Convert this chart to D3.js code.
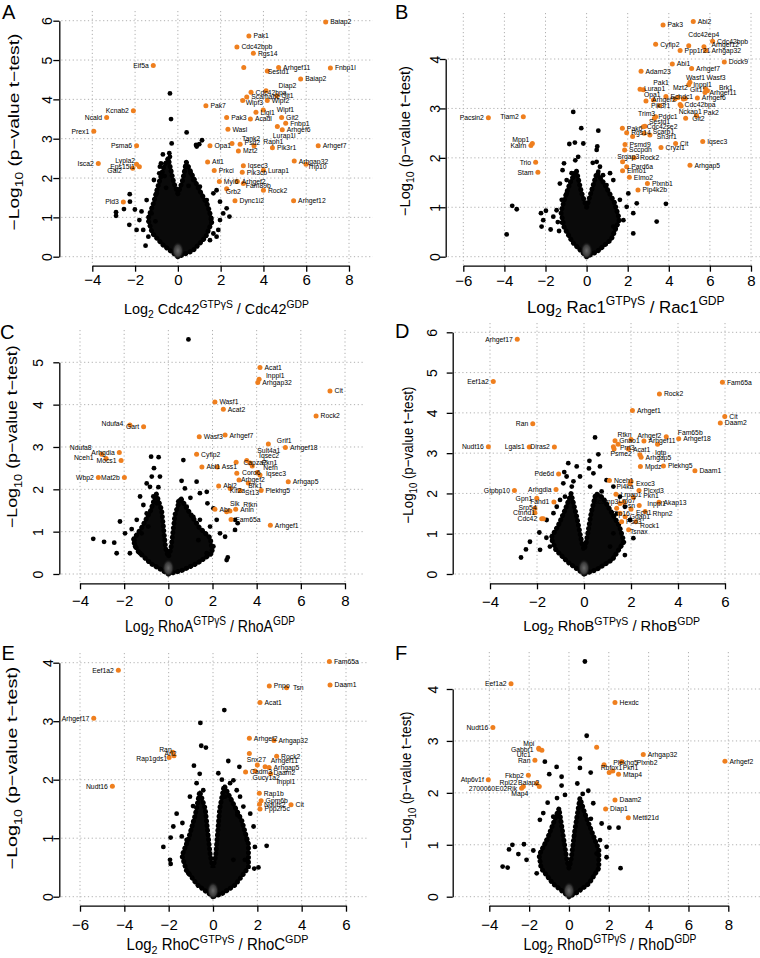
<!DOCTYPE html>
<html><head><meta charset="utf-8">
<script src="https://cdn.jsdelivr.net/npm/d3@7"></script>
<style>body{margin:0;background:#fff}svg{display:block}</style>
</head><body>
<svg id="chart" width="760" height="958"></svg>
<script>
// ---------------- DATA ----------------
// hits: [gene, log2 ratio, -log10 p]; "" = unlabeled highlighted point
const cdc42XTicks = [-4,-2,0,2,4,6,8];
const cdc42YTicks = [0,1,2,3,4,5,6];
const cdc42Hits = [
["Baiap2",6.91,5.97],["Pak1",3.32,5.61],["Cdc42bpb",2.76,5.33],["Rgs14",3.53,5.17],["Eif5a",-1.15,4.86],["",3.08,4.81],["Arhgef11",4.71,4.81],["Sestd1",4.18,4.72],["Fnbp1l",7.13,4.80],["Baiap2",5.74,4.52],["Diap2",4.12,4.22],["Cdc42bpa",3.42,4.18],["Scamabc",3.22,4.06],["Git1",4.62,4.09],["Wipf3",3.03,3.97],["Wipf2",4.18,3.97],["Wipf1",3.99,3.73],["Llgl1",3.65,3.67],["Git2",4.85,3.54],["Acadl",3.39,3.50],["Pak3",2.28,3.54],["Fnbp1",5.04,3.39],["Arhgef6",4.88,3.23],["Lurap1l",4.65,3.31],["Wasl",2.34,3.24],["Pak7",1.31,3.84],["Tank2",2.53,2.88],["Psd2",2.91,2.86],["Raph1",3.56,2.82],["Pik3r1",4.42,2.77],["Opa1",1.50,2.82],["Mzt2",2.83,2.69],["Arhgef7",6.56,2.82],["Atl1",1.39,2.41],["Iqsec3",3.06,2.31],["Pik3cb",3.01,2.15],["Lurap1",4.00,2.20],["Arhgap32",5.44,2.43],["Trip10",5.99,2.35],["Prkci",1.70,2.19],["Myl6",1.94,1.91],["Arhgef2",2.78,1.91],["Fam89b",3.06,1.86],["Rock2",4.00,1.69],["Grb2",2.28,1.73],["Dync1i2",2.67,1.42],["Arhgef12",5.41,1.42],["Kcnab2",-2.08,3.71],["Ncald",-3.33,3.54],["Prex1",-3.93,3.19],["Psma6",-1.93,2.82],["Isca2",-3.72,2.37],["Lypla2",-1.93,2.35],["Eps15l1",-1.80,2.29],["Gai2",-2.11,2.25],["Pld3",-2.55,1.39]
];
const cdc42LeftLabels = ["Eif5a","Kcnab2","Ncald","Prex1","Psma6","Isca2","Lypla2","Eps15l1","Gai2","Pld3"];
const cdc42Background = [[-2.25,1.59],[-2.52,1.21],[-2.24,1.40],[-2.89,1.13],[-2.89,1.04],[-2.27,0.81],[-2.01,1.20],[-1.80,0.93],[-1.62,0.68],[-1.93,0.68],[-1.51,0.28],[-1.38,0.51],[-1.12,1.95],[-0.99,1.61],[-1.46,1.44],[-1.23,1.10],[-0.84,2.29],[-0.79,2.37],[-0.87,2.12],[-0.45,2.46],[-0.37,2.54],[-0.29,2.88],[-0.40,2.63],[-0.32,3.50],[-0.37,4.15],[0.41,3.16],[0.85,2.84],[1.00,2.86],[1.13,2.96],[0.88,2.80],[0.60,2.12],[0.72,1.95],[1.03,1.78],[1.66,1.61],[1.81,1.69],[1.35,1.44],[1.97,1.40],[2.28,1.23],[2.12,1.10],[2.41,1.02],[1.97,0.93],[1.66,0.59],[1.89,0.68],[1.50,0.42],[1.81,0.51],[-0.62,2.05],[-0.55,1.75],[0.35,2.3],[0.5,1.8],[-1.7,1.15],[1.55,0.95],[-1.05,0.9],[-0.7,2.6]];
const cdc42Core = [[0,0],[-0.7,0.3],[-1.2,0.6],[-1.4,0.95],[-1.15,1.35],[-0.9,1.85],[-0.65,2.3],[-0.45,2.5],[-0.2,1.9],[0,1.6],[0.2,1.9],[0.4,2.4],[0.65,2.1],[1.0,1.7],[1.4,1.3],[1.6,0.9],[1.3,0.5],[0.7,0.15]];

const rac1XTicks = [-6,-4,-2,0,2,4,6,8];
const rac1YTicks = [0,1,2,3,4];
const rac1Hits = [
["Pak3",3.72,4.69],["Abi2",5.19,4.76],["Cdc42bpb",6.13,4.36],["Cdc42ep4",4.97,4.27],["Ppp1r21",4.55,4.17],["Arhgef12",5.71,4.25],["Arhgap32",5.79,4.17],["Cyfip2",3.36,4.30],["Abi1",4.17,3.90],["Arhgef7",5.11,3.81],["Dock9",6.70,3.94],["Adam23",2.65,3.75],["Wasf1",5.03,3.53],["Inppl1",4.97,3.48],["Wasf3",5.79,3.40],["Brk1",5.88,3.36],["Arhgef11",5.76,3.32],["Arhgef6",5.39,3.21],["Mzt2",4.45,3.22],["Git1",4.80,3.20],["Echdc1",3.86,3.24],["Pak1",2.60,3.39],["Lurap1",2.76,3.38],["Opa1",2.89,3.15],["Arhgef2",3.25,3.17],["Pik3r1",3.55,3.06],["Cdc42bpa",4.55,3.08],["",4.30,3.19],["",4.71,3.19],["Nckap1",4.60,3.05],["Pak2",5.35,2.85],["Git2",4.82,2.80],["Trim3",3.36,2.83],["Pddc1",3.30,2.80],["Sestd1",2.84,2.64],["Cdc42se2",2.76,2.63],["Pak6",1.74,2.60],["Rgs14",1.95,2.51],["Scarb1",2.80,2.50],["Sh3rf1",3.08,2.46],["",2.24,2.43],["Psmd9",1.87,2.27],["Sccpdh",1.85,2.16],["Cit",4.33,2.29],["Cryzl1",3.62,2.21],["Iqsec3",5.65,2.33],["Srgap3",1.75,1.92],["Rock2",2.31,2.00],["Pard6a",1.95,1.82],["Elmo1",1.75,1.74],["Elmo2",2.08,1.61],["Arhgap5",5.03,1.85],["Plxnb1",2.96,1.48],["Pip4k2b",2.50,1.35],["Pacsin2",-4.78,2.81],["Tiam2",-3.08,2.83],["Mpp1",-2.64,2.29],["Kalrn",-2.71,2.25],["Trio",-2.48,1.91],["Stam",-2.37,1.71]
];
const rac1LeftLabels = ["Pacsin2","Tiam2","Mpp1","Kalrn","Trio","Stam","Trim3"];
const rac1Background = [[-0.65,2.93],[-0.26,2.60],[0.57,2.55],[-0.84,2.28],[-0.57,2.31],[-0.16,2.29],[0.52,2.23],[-1.10,1.89],[0.49,1.92],[0.57,1.72],[-3.62,1.03],[-3.40,0.96],[-3.89,0.45],[-2.22,0.88],[-1.98,0.93],[-2.11,0.74],[-1.75,0.55],[-2.19,0.61],[-1.34,0.52],[-1.20,0.69],[3.86,1.07],[3.41,0.71],[-1.17,1.75],[-0.97,1.55],[-0.73,1.69],[-0.41,2.02],[0.65,1.82],[1.14,1.69],[1.30,1.55],[0.97,1.45],[1.62,1.15],[1.95,1.01],[2.27,0.88],[1.79,0.74],[1.30,0.61],[-0.97,1.28],[-1.21,1.15],[-1.46,0.94],[-1.62,0.81],[2.44,1.08],[2.03,1.28],[2.27,0.47],[0.49,2.16],[-1.30,1.48],[-0.55,1.95],[0.3,1.9],[0.8,1.65],[-1.4,0.7]];
const rac1Core = [[0,0],[-0.7,0.3],[-1.1,0.6],[-1.25,0.9],[-1.05,1.2],[-0.8,1.5],[-0.5,1.75],[-0.25,1.3],[0,1.0],[0.25,1.35],[0.5,1.7],[0.9,1.45],[1.35,1.1],[1.6,0.75],[1.2,0.35],[0.5,0.1]];

const rhoAXTicks = [-4,-2,0,2,4,6,8];
const rhoAYTicks = [0,1,2,3,4,5];
const rhoAHits = [
["Acat1",4.15,4.88],["Inppl1",4.11,4.60],["Arhgap32",4.05,4.52],["Cit",7.32,4.32],["Wasf1",2.11,4.06],["Acat2",2.49,3.89],["Rock2",6.69,3.73],["Wasf3",1.40,3.24],["Arhgef7",2.57,3.28],["Grif1",4.53,3.07],["Arhgef18",5.30,2.99],["Sult4a1",3.70,2.62],["Iqsec2",3.80,2.55],["Cyfip2",1.28,2.83],["Abl1",1.52,2.53],["Ass1",2.22,2.53],["Capza2",3.07,2.64],["Pkn1",3.55,2.68],["Nefh",4.03,2.40],["Iqsec3",4.15,2.34],["Coro6",3.10,2.38],["Arhgef2",3.20,2.22],["Brk1",3.62,2.15],["Abl2",2.28,2.08],["Kif2a",2.80,2.02],["St13",3.25,1.97],["Plekhg5",4.20,1.97],["Arhgap5",5.43,2.18],["Slk",2.64,1.47],["Rtkn",2.79,1.49],["Abr",2.11,1.53],["Anln",3.05,1.53],["Fam65a",2.84,1.29],["Arhgef1",4.62,1.15],["Ndufa4",-1.74,3.52],["Gart",-1.12,3.48],["Ndufa8",-3.02,2.83],["Arhgdia",-2.22,2.87],["Nceh1",-2.82,2.73],["Mocs1",-2.14,2.68],["Wbp2",-3.17,2.28],["Mat2b",-1.99,2.28]
];
const rhoALeftLabels = ["Ndufa4","Gart","Ndufa8","Arhgdia","Nceh1","Mocs1","Wbp2","Mat2b"];
const rhoABackground = [[0.91,5.54],[-0.78,2.77],[-0.44,2.76],[0.68,2.69],[-0.65,2.50],[-0.75,2.30],[-0.38,2.30],[1.28,2.18],[-0.83,2.06],[0.75,2.02],[1.74,1.94],[1.43,1.91],[1.77,1.67],[2.04,1.55],[3.02,1.28],[3.14,1.20],[3.02,1.04],[2.57,0.88],[2.69,0.39],[2.64,0.33],[-3.40,0.83],[-2.91,0.76],[-2.45,0.74],[-2.19,1.24],[-1.96,0.96],[-1.66,1.06],[-1.54,0.80],[-1.28,1.83],[-1.13,1.63],[-0.98,1.43],[-1.43,1.28],[-1.21,0.96],[-0.91,1.12],[-0.68,1.83],[-0.53,1.67],[0.45,1.71],[0.83,1.59],[1.13,1.35],[1.43,1.28],[1.89,1.12],[2.19,1.28],[2.34,0.96],[2.04,0.65],[1.74,0.49],[1.36,0.80],[-1.74,0.49],[-1.28,0.49],[-2.34,0.49],[-0.98,2.14],[-0.45,2.05],[0.6,2.2],[1.0,1.8],[-1.5,0.65]];
const rhoACore = [[0,0],[-0.8,0.25],[-1.4,0.55],[-1.6,0.8],[-1.2,1.1],[-0.8,1.5],[-0.55,1.9],[-0.3,1.5],[-0.12,0.6],[0,0.4],[0.12,0.6],[0.3,1.4],[0.55,1.8],[0.9,1.5],[1.4,1.1],[1.9,0.85],[2.0,0.5],[1.3,0.25],[0.6,0.08]];

const rhoBXTicks = [-4,-2,0,2,4,6];
const rhoBYTicks = [0,1,2,3,4,5,6];
const rhoBHits = [
["Arhgef17",-2.84,5.83],["Eef1a2",-3.86,4.78],["Ran",-2.18,3.73],["Nudt16",-4.07,3.16],["Lgals1",-2.33,3.15],["Diras2",-1.26,3.15],["Pde6d",-1.08,2.48],["Gtpbp10",-2.96,2.07],["Arhgdia",-1.19,2.10],["Gpn1",-2.01,1.88],["Fahd1",-1.28,1.79],["Srp54",-2.09,1.63],["Ctnnd1",-2.09,1.52],["Cdc42",-1.80,1.37],["",-1.73,1.37],["Fam65a",5.89,4.76],["Rock2",3.21,4.47],["Arhgef1",2.06,4.06],["Cit",5.99,3.91],["Daam2",5.80,3.75],["Fam65b",3.50,3.41],["Arhgef18",4.03,3.36],["Rtkn",1.32,3.31],["Arhgef2",2.0,3.34],["Gnao1",1.45,3.22],["Arhgef11",2.55,3.30],["",3.13,3.22],["Prrt3",1.25,3.16],["Psme2",1.28,3.10],["Acat1",1.89,3.10],["Igtp",2.38,2.96],["Arhgap5",2.43,2.90],["Mpdz",2.40,2.67],["Plekhg5",3.38,2.68],["Daam1",4.72,2.56],["Nceh1",1.08,2.32],["Pi4ka",1.96,2.24],["Exoc3",2.0,2.30],["Plcxd3",2.34,2.07],["Lrpap1",1.36,1.98],["Pkn1",2.1,1.90],["Scamp3",1.53,1.75],["Lmo7",1.70,1.78],["Inppl1",2.35,1.70],["Akap13",3.19,1.78],["Gsn",1.39,1.63],["Srp16",1.53,1.51],["Ech1",2.0,1.61],["Gdap1",1.75,1.42],["Rhpn2",2.6,1.55],["Psd3",1.6,1.30],["Rock1",2.2,1.30],["Tsnax",1.9,1.10]
];
const rhoBLeftLabels = ["Arhgef17","Eef1a2","Ran","Nudt16","Lgals1","Diras2","Pde6d","Gtpbp10","Arhgdia","Gpn1","Fahd1","Srp54","Ctnnd1","Cdc42","Pi4ka","Scamp3"];
const rhoBBackground = [[0.47,3.39],[0.61,2.97],[0.23,2.81],[-0.67,2.75],[-0.31,2.67],[-0.84,2.53],[0.21,2.62],[-0.88,2.25],[-0.81,1.92],[-2.30,0.80],[-2.47,0.61],[-2.68,0.41],[-1.90,1.03],[-1.59,1.34],[-1.30,1.51],[-1.02,1.84],[-1.16,1.67],[-0.52,2.17],[-0.17,2.42],[0.40,2.50],[0.68,2.67],[0.96,2.33],[1.25,2.17],[1.53,1.92],[1.74,1.67],[1.96,1.34],[2.10,0.89],[1.74,0.47],[1.25,1.01],[1.11,0.68],[-1.45,0.68],[-1.87,0.60],[-0.74,2.42],[0.26,2.17],[-0.45,2.3],[0.75,2.05],[1.4,1.5],[-1.6,0.9]];
const rhoBCore = [[0,0],[-0.7,0.3],[-1.2,0.6],[-1.4,0.9],[-1.1,1.2],[-0.8,1.6],[-0.55,2.0],[-0.3,1.4],[-0.1,0.8],[0,0.6],[0.1,0.8],[0.3,1.5],[0.5,2.0],[0.8,1.9],[1.1,1.6],[1.5,1.2],[1.7,0.8],[1.2,0.35],[0.5,0.1]];

const rhoCXTicks = [-6,-4,-2,0,2,4,6];
const rhoCYTicks = [0,1,2,3,4];
const rhoCHits = [
["Fam65a",5.25,4.02],["Daam1",5.28,3.62],["Pnpo",2.54,3.60],["Tsn",3.32,3.57],["Acat1",2.12,3.32],["Arhgef2",1.64,2.71],["Arhgap32",2.75,2.67],["Snx27",1.64,2.45],["Rock2",2.87,2.40],["Arhgef11",2.0,2.25],["Arhgap5",2.53,2.21],["Cadm3",1.47,2.13],["Daam2",2.35,2.22],["Gucy1a2",1.9,2.15],["Inppl1",2.6,2.10],["Rap1b",2.09,1.77],["Gpm6b",2.17,1.64],["Cit",3.52,1.57],["Ndufs2",2.10,1.58],["Ppp2r5c",2.12,1.50],["Eef1a2",-4.27,3.87],["Arhgef17",-5.38,3.05],["Ran",-1.82,2.47],["Arl2",-1.76,2.41],["Rap1gds1",-1.98,2.38],["Nudt16",-4.54,1.89]
];
const rhoCLeftLabels = ["Eef1a2","Arhgef17","Ran","Arl2","Rap1gds1","Nudt16"];
const rhoCBackground = [[0.51,3.19],[-0.57,2.97],[-0.53,2.58],[-0.32,2.55],[0.69,2.32],[0.24,2.11],[-0.86,2.24],[-2.24,0.85],[-1.91,1.01],[-1.38,1.26],[2.42,0.87],[2.05,0.50],[1.86,0.48],[-1.41,1.03],[-1.64,1.42],[-1.79,1.20],[-1.19,0.97],[-1.94,0.63],[-1.91,0.56],[-1.11,0.40],[-0.74,1.94],[-1.04,1.71],[-0.44,1.82],[0.92,1.99],[1.07,1.82],[1.22,1.71],[1.37,1.54],[1.68,1.42],[1.83,1.20],[1.53,0.97],[1.89,0.85],[0.92,0.63],[1.44,0.63],[1.19,2.22],[0.77,1.94],[0.54,1.71],[-0.6,2.1],[-0.9,1.55],[0.4,2.0],[1.1,1.4]];
const rhoCCore = [[0,0],[-0.7,0.2],[-1.2,0.45],[-1.4,0.7],[-1.1,1.0],[-0.8,1.4],[-0.6,1.8],[-0.35,1.5],[-0.12,0.7],[0,0.5],[0.12,0.7],[0.3,1.5],[0.5,1.9],[0.9,1.6],[1.3,1.3],[1.6,0.9],[1.6,0.5],[1.0,0.2],[0.4,0.05]];

const rhoDXTicks = [-4,-2,0,2,4,6,8];
const rhoDYTicks = [0,1,2,3,4];
const rhoDHits = [
["Eef1a2",-2.91,4.10],["Hexdc",2.31,3.74],["Nudt16",-3.82,3.26],["Mpi",-1.52,2.86],["Gabbr1",-1.50,2.84],["Ufc1",-1.36,2.82],["Ran",-1.71,2.63],["",1.39,2.88],["Arhgap32",3.73,2.74],["Arhgef2",7.83,2.61],["Plekhg5",1.76,2.54],["Plxnb2",2.64,2.60],["Rbfox1",2.02,2.39],["Pkn1",2.2,2.42],["Mtap4",2.49,2.36],["Fkbp2",-2.04,2.34],["Atp6v1f",-4.05,2.25],["Baiap2",-1.49,2.12],["Rpl22",-2.29,2.12],["2700060E02Rik",-2.38,2.09],["Map4",-1.62,2.18],["Daam2",2.31,1.86],["Diap1",1.84,1.69],["Mettl21d",2.98,1.52]
];
const rhoDLeftLabels = ["Eef1a2","Nudt16","Mpi","Gabbr1","Ufc1","Ran","Fkbp2","Atp6v1f","Baiap2","Rpl22","2700060E02Rik","Map4"];
const rhoDBackground = [[0.80,4.53],[0.89,3.10],[0.55,2.66],[0.55,2.48],[1.09,2.39],[-1.21,2.60],[-0.62,2.50],[-0.99,2.36],[-0.37,2.31],[-0.37,2.14],[0.42,2.18],[0.97,2.04],[0.69,1.98],[-0.20,1.96],[1.22,1.80],[-1.07,1.81],[1.64,1.41],[2.03,1.33],[2.49,1.33],[2.59,0.55],[1.89,0.76],[-2.26,1.01],[-2.54,0.82],[-2.84,1.00],[-3.01,0.91],[-3.33,0.58],[-3.08,0.56],[-1.79,0.89],[-1.62,0.45],[-0.79,1.54],[-1.46,1.48],[-1.29,1.61],[1.56,1.09],[1.39,0.83],[1.89,0.96],[-2.13,0.71],[-1.12,1.09],[-0.6,1.9],[0.65,1.75],[1.1,1.5]];
const rhoDCore = [[0,0],[-0.8,0.25],[-1.4,0.55],[-1.5,0.8],[-1.1,1.1],[-0.8,1.4],[-0.5,1.7],[-0.3,1.2],[-0.1,0.7],[0,0.55],[0.1,0.7],[0.3,1.3],[0.55,1.9],[0.8,1.6],[1.2,1.2],[1.5,0.9],[1.5,0.55],[1.0,0.25],[0.4,0.08]];

// ---------------- LAYOUT (pixels) ----------------
const labelNudge = {
 A:{Diap2:[8,-5],Sestd1:[-4,0.7],Wipf1:[9,-0.7],Wipf3:[-1.5,2],Lurap1l:[-9,9],Tank2:[5.5,-5],Psd2:[0,-1.5],Raph1:[4.7,-4],Trip10:[-3,2],Fam89b:[-2,2.5],Grb2:[-5.5,3],Lypla2:[3,-4],Gai2:[-6.5,2.5]},
 B:{Cdc42ep4:[-5,-11],Arhgef12:[3,-2.5],Arhgap32:[1.5,0],Wasf1:[-8.5,-5],Wasf3:[-3.5,-11],Brk1:[7,-3.5],Mzt2:[-9.6,-10.3],Git1:[0.3,-9.3],Pak1:[8.8,-7],Lurap1:[-3.8,-1.5],Opa1:[-6.5,-6],Arhgef2:[-6,0],Pik3r1:[-13,0],Nckap1:[-7,5.7],Pak2:[2.3,-3],Git2:[2,0],Trim3:[4,-3.5],Pddc1:[-0.6,-1.7],Sestd1:[-0.5,-4.3],Cdc42se2:[-1,0],Scarb1:[4,-1.5],Sh3rf1:[2.3,1.5],Srgap3:[-9.8,-5],Rock2:[1.4,0],Mpp1:[1.5,-4.3]},
 C:{Inppl1:[2.4,-3.6],Grif1:[4,-3],Sult4a1:[2.8,-12],Iqsec2:[2.3,-10],Capza2:[2.8,0],Pkn1:[10.5,2],Nefh:[1.5,-4.6],Iqsec3:[1.5,-1.7],Coro6:[0.8,-1],Arhgef2:[-2.5,0],Brk1:[-4.5,3],Kif2a:[-5,2.4],St13:[0.5,1.6],Slk:[-1.2,-8.4],Rtkn:[8.8,-6.7],Ndufa4:[-2,-1.7],Ndufa8:[-5.5,-6.3],Nceh1:[-8,-0.6]},
 D:{Srp54:[6.3,-0.6],Ctnnd1:[4.6,0],Fam65b:[7,-4.3],Rtkn:[-2,-5.7],Arhgef2:[2,-3.8],Gnao1:[-3.3,-3.6],Prrt3:[2,0.6],Psme2:[-8,4.2],Igtp:[10.6,-2.5],Pi4ka:[8,3],Exoc3:[0.5,2.6],Pkn1:[5.4,-2.2],Scamp3:[2.8,-2.3],Lmo7:[-10,-1.3],Inppl1:[3.6,-2.2],Gsn:[1.5,-2.3],Srp16:[-12.8,0.5],Ech1:[0.5,3],Rhpn2:[3,2.4],Rock1:[-0.2,3.7],Tsnax:[-3.2,2]},
 E:{Tsn:[2,0],Snx27:[-7.2,6.6],Arhgef11:[9,-4.8],Daam2:[3.8,6],Gucy1a2:[-7,6.8],Inppl1:[1.6,7.8],Ran:[3.5,-3],Arl2:[7,-2.4],Rap1gds1:[2.7,1.5]},
 F:{Mpi:[0,-5],Gabbr1:[-1,0],Ufc1:[-6.7,4],Plekhg5:[4.7,-2.6],Plxnb2:[10.6,0.5],Rbfox1:[-13,-5.4],Pkn1:[5.4,-3.8],Baiap2:[4.5,-4.4],Rpl22:[-1.6,-4.4],Map4:[-3.9,10.4]}
};
const layouts = {
 A:{xr:[92.3,349],yr:[256.7,20.7],axisX:59.3,axisY:265.7,right:373,top:11,ytOff:-12.6,xtOff:19.5,letter:[2,18.5],xT:{cx:216.5,y:314,len:185,fs:14},yT:{x:18.5,cy:132,len:197,fs:15}},
 B:{xr:[463.3,751],yr:[256.7,59],axisX:445.7,axisY:265.7,right:760,top:13,ytOff:-10.7,xtOff:20,letter:[395,19.3],xT:{cx:625.8,y:312.5,len:198,fs:17},yT:{x:409.5,cy:141,len:150,fs:15}},
 C:{xr:[80,345],yr:[574,362.3],axisX:59.3,axisY:583.3,right:363,top:330,ytOff:-21,xtOff:23,letter:[0,338.5],xT:{cx:210,y:632,len:170,fs:17},yT:{x:17,cy:436.7,len:183,fs:15}},
 D:{xr:[490,725],yr:[574,332.3],axisX:452.7,axisY:583.3,right:760,top:323,ytOff:-21,xtOff:24,letter:[395,338],xT:{cx:611.7,y:631,len:177,fs:15},yT:{x:412.5,cy:455,len:137,fs:15}},
 E:{xr:[80,346],yr:[896.7,662.7],axisX:59.3,axisY:905.7,right:367,top:653,ytOff:-11,xtOff:24,letter:[1.5,660],xT:{cx:217.5,y:950,len:182,fs:16},yT:{x:17,cy:768,len:203,fs:15}},
 F:{xr:[489.3,728.3],yr:[896.7,689],axisX:452.7,axisY:905.7,right:760,top:652,ytOff:-20,xtOff:24,letter:[395,660],xT:{cx:610,y:950,len:173,fs:17},yT:{x:411,cy:780,len:137,fs:15}}
};

const panels = [
 {id:"A",gtpase:"Cdc42",xTicks:cdc42XTicks,yTicks:cdc42YTicks,hits:cdc42Hits,left:cdc42LeftLabels,bg:cdc42Background,core:cdc42Core},
 {id:"B",gtpase:"Rac1",xTicks:rac1XTicks,yTicks:rac1YTicks,hits:rac1Hits,left:rac1LeftLabels,bg:rac1Background,core:rac1Core},
 {id:"C",gtpase:"RhoA",xTicks:rhoAXTicks,yTicks:rhoAYTicks,hits:rhoAHits,left:rhoALeftLabels,bg:rhoABackground,core:rhoACore},
 {id:"D",gtpase:"RhoB",xTicks:rhoBXTicks,yTicks:rhoBYTicks,hits:rhoBHits,left:rhoBLeftLabels,bg:rhoBBackground,core:rhoBCore},
 {id:"E",gtpase:"RhoC",xTicks:rhoCXTicks,yTicks:rhoCYTicks,hits:rhoCHits,left:rhoCLeftLabels,bg:rhoCBackground,core:rhoCCore},
 {id:"F",gtpase:"RhoD",xTicks:rhoDXTicks,yTicks:rhoDYTicks,hits:rhoDHits,left:rhoDLeftLabels,bg:rhoDBackground,core:rhoDCore}
];

// ---------------- DRAW ----------------
const FONT = "'Liberation Sans', Arial, Helvetica, sans-serif";
const ORANGE = "#EF7F1E";
const svg = d3.select("#chart").style("font-family", FONT);
svg.append("rect").attr("width",760).attr("height",958).attr("fill","#fff");
const defs = svg.append("defs");
const rg = defs.append("radialGradient").attr("id","coreGrey");
rg.append("stop").attr("offset","0%").attr("stop-color","#6a6a6a");
rg.append("stop").attr("offset","60%").attr("stop-color","#3a3a3a");
rg.append("stop").attr("offset","100%").attr("stop-color","#0a0a0a").attr("stop-opacity",0);

const minus = d => d < 0 ? "\u2212" + Math.abs(d) : String(d);

panels.forEach(p => {
 const L = layouts[p.id];
 const nud = labelNudge[p.id] || {};
 const leftSet = new Set(p.left);
 const x = d3.scaleLinear().domain([p.xTicks[0], p.xTicks[p.xTicks.length-1]]).range(L.xr);
 const y = d3.scaleLinear().domain([p.yTicks[0], p.yTicks[p.yTicks.length-1]]).range(L.yr);
 const g = svg.append("g");

 // grid
 const grid = g.append("g").attr("stroke","#b0b0b0").attr("stroke-width",1).attr("stroke-dasharray","1.2,2.6");
 grid.selectAll("line.v").data(p.xTicks).join("line").attr("class","v")
  .attr("x1",d=>x(d)).attr("x2",d=>x(d)).attr("y1",L.top).attr("y2",L.axisY-1);
 grid.selectAll("line.h").data(p.yTicks).join("line").attr("class","h")
  .attr("x1",L.axisX+2).attr("x2",L.right).attr("y1",d=>y(d)).attr("y2",d=>y(d));

 // axes
 const xa = g.append("g").attr("transform",`translate(0,${L.axisY})`)
  .call(d3.axisBottom(x).tickValues(p.xTicks).tickSize(6).tickSizeOuter(0).tickFormat(minus));
 xa.selectAll("text").attr("y",L.xtOff).attr("dy",0).attr("font-size",15).attr("font-family",FONT).attr("fill","#000");
 const ya = g.append("g").attr("transform",`translate(${L.axisX},0)`)
  .call(d3.axisLeft(y).tickValues(p.yTicks).tickSize(6).tickSizeOuter(0).tickFormat(minus));
 ya.selectAll("text").attr("x",0).attr("dy",0).attr("text-anchor","middle")
  .attr("transform",`translate(${L.ytOff+5},0) rotate(-90)`).attr("font-size",14).attr("font-family",FONT).attr("fill","#000");
 g.selectAll(".domain, .tick line").attr("stroke","#000").attr("stroke-width",1.3);

 // dense core of unchanged proteins: filled envelope with a dotted (bead-like) rim
 const coreLine = d3.line().x(d=>x(d[0])).y(d=>y(d[1])).curve(d3.curveLinearClosed);
 g.append("path").datum(p.core).attr("d", coreLine)
  .attr("fill","#0a0a0a").attr("stroke","#0a0a0a").attr("stroke-width",2).attr("stroke-linejoin","round");
 g.append("path").datum(p.core).attr("d", coreLine)
  .attr("fill","none").attr("stroke","#000").attr("stroke-width",5)
  .attr("stroke-linecap","round").attr("stroke-dasharray","0.1,4.6");
 g.append("ellipse").attr("cx",x(0)).attr("cy",y(0)-6).attr("rx",6).attr("ry",9).attr("fill","url(#coreGrey)");

 // background points
 g.append("g").selectAll("circle").data(p.bg).join("circle")
  .attr("cx",d=>x(d[0])).attr("cy",d=>y(d[1])).attr("r",2.4).attr("fill","#000");

 // highlighted points
 g.append("g").selectAll("circle").data(p.hits).join("circle")
  .attr("cx",d=>x(d[1])).attr("cy",d=>y(d[2])).attr("r",2.5).attr("fill",ORANGE);

 // labels
 g.append("g").selectAll("text").data(p.hits.filter(d=>d[0])).join("text")
  .attr("x",d=>x(d[1]) + (leftSet.has(d[0]) ? -4.5 : 4.5) + ((nud[d[0]]||[0,0])[0]))
  .attr("y",d=>y(d[2]) + ((nud[d[0]]||[0,0])[1]))
  .attr("dy","0.35em").attr("text-anchor",d=>leftSet.has(d[0])?"end":"start")
  .attr("font-size",6.8).attr("fill","#000").text(d=>d[0]);

 // panel letter
 g.append("text").attr("x",L.letter[0]).attr("y",L.letter[1]).attr("font-size",20).text(p.id);

 // x title
 const fs = L.xT.fs;
 const xt = g.append("text").attr("font-size",fs).attr("text-anchor","middle");
 xt.append("tspan").text("Log");
 xt.append("tspan").attr("dy",fs*0.25).attr("font-size",fs*0.72).text("2");
 xt.append("tspan").attr("dy",-fs*0.25).text(" " + p.gtpase);
 xt.append("tspan").attr("dy",-fs*0.42).attr("font-size",fs*0.72).text("GTP\u03B3S");
 xt.append("tspan").attr("dy",fs*0.42).text(" / " + p.gtpase);
 xt.append("tspan").attr("dy",-fs*0.42).attr("font-size",fs*0.72).text("GDP");
 const xw = xt.node().getComputedTextLength();
 xt.attr("transform",`translate(${L.xT.cx},${L.xT.y}) scale(${L.xT.len/xw},1)`);

 // y title
 const fy = L.yT.fs;
 const yt = g.append("text").attr("font-size",fy).attr("text-anchor","middle");
 yt.append("tspan").text("\u2212Log");
 yt.append("tspan").attr("dy",fy*0.3).attr("font-size",fy*0.72).text("10");
 yt.append("tspan").attr("dy",-fy*0.3).text(" (p\u2212value t\u2212test)");
 const yw = yt.node().getComputedTextLength();
 yt.attr("transform",`translate(${L.yT.x},${L.yT.cy}) rotate(-90) scale(${L.yT.len/yw},1)`);
});
</script>
</body></html>
